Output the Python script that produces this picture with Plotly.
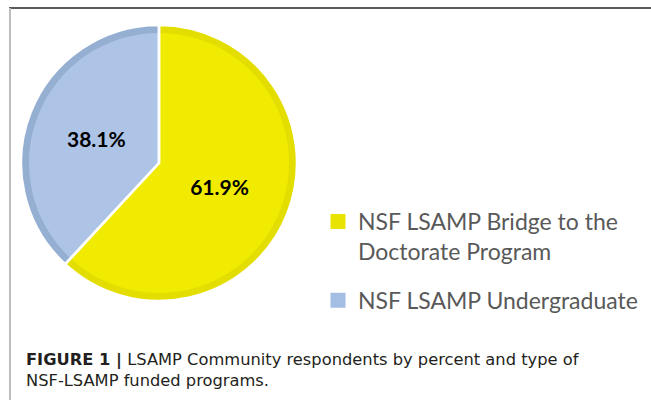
import plotly.graph_objects as go

labels = ["NSF LSAMP Bridge to the<br>Doctorate Program", "NSF LSAMP Undergraduate"]
values = [61.9, 38.1]
fill_colors = ["#F0EB00", "#AEC4E7"]
border_colors = ["#E3DE00", "#95AFD2"]
legend_colors = ["#E8E300", "#A4BDE2"]
caption_bold = "FIGURE 1 |"
caption_line1 = " LSAMP Community respondents by percent and type of"
caption_line2 = "NSF-LSAMP funded programs."

W, H = 651, 400
cx, cy, R, B = 159, 163, 138, 8

def dom(r):
    return dict(x=[(cx - r) / W, (cx + r) / W], y=[1 - (cy + r) / H, 1 - (cy - r) / H])

common = dict(labels=labels, values=values, sort=False, direction="clockwise", rotation=0,
              showlegend=False)

fig = go.Figure()
# outer (border) layer
fig.add_trace(go.Pie(**common,
    marker=dict(colors=border_colors, line=dict(width=0)),
    textinfo="none", hoverinfo="skip", domain=dom(R)))
# inner (fill) layer with labels
fig.add_trace(go.Pie(**common,
    marker=dict(colors=fill_colors, line=dict(width=0)),
    texttemplate="<b>%{value:.1f}%</b>", textposition="inside", insidetextorientation="horizontal",
    textfont=dict(family="Lato", size=21, color="black"),
    domain=dom(R - B)))
# white separators
fig.add_trace(go.Pie(**common,
    marker=dict(colors=["rgba(0,0,0,0)"] * len(values), line=dict(color="white", width=2.5)),
    textinfo="none", hoverinfo="skip", domain=dom(R)))

# legend entries
for i, (lab, col) in enumerate(zip(labels, legend_colors)):
    fig.add_trace(go.Scatter(x=[None], y=[None], mode="markers", name=lab,
                             legendgroup=f"g{i}",
                             marker=dict(symbol="square", size=15, color=col, line=dict(width=0))))

fig.update_layout(
    width=W, height=H, margin=dict(l=0, r=0, t=0, b=0),
    paper_bgcolor="white", plot_bgcolor="white",
    xaxis=dict(visible=False), yaxis=dict(visible=False),
    showlegend=True,
    legend=dict(x=318 / W, y=1 - 200 / H, xanchor="left", yanchor="top",
                font=dict(family="Lato", size=23, color="#595959"),
                bgcolor="rgba(0,0,0,0)", itemclick=False, itemdoubleclick=False,
                valign="top", tracegroupgap=16),
    shapes=[
        dict(type="line", xref="paper", yref="paper", x0=9 / W, x1=1, y0=1 - 8 / H, y1=1 - 8 / H,
             line=dict(color="#5a5a5a", width=2)),
        dict(type="line", xref="paper", yref="paper", x0=10 / W, x1=10 / W, y0=0, y1=1 - 8 / H,
             line=dict(color="#bdbdbd", width=2)),
    ],
    annotations=[
        dict(xref="paper", yref="paper", x=24 / W, y=1 - 359.5 / H, xanchor="left", yanchor="middle",
             text="<b>" + caption_bold + "</b>" + caption_line1, showarrow=False,
             font=dict(family="DejaVu Sans", size=16.3, color="#231f20")),
        dict(xref="paper", yref="paper", x=24 / W, y=1 - 380.5 / H, xanchor="left", yanchor="middle",
             text=caption_line2, showarrow=False,
             font=dict(family="DejaVu Sans", size=16.3, color="#231f20")),
    ],
)
fig.write_html("out.html")
